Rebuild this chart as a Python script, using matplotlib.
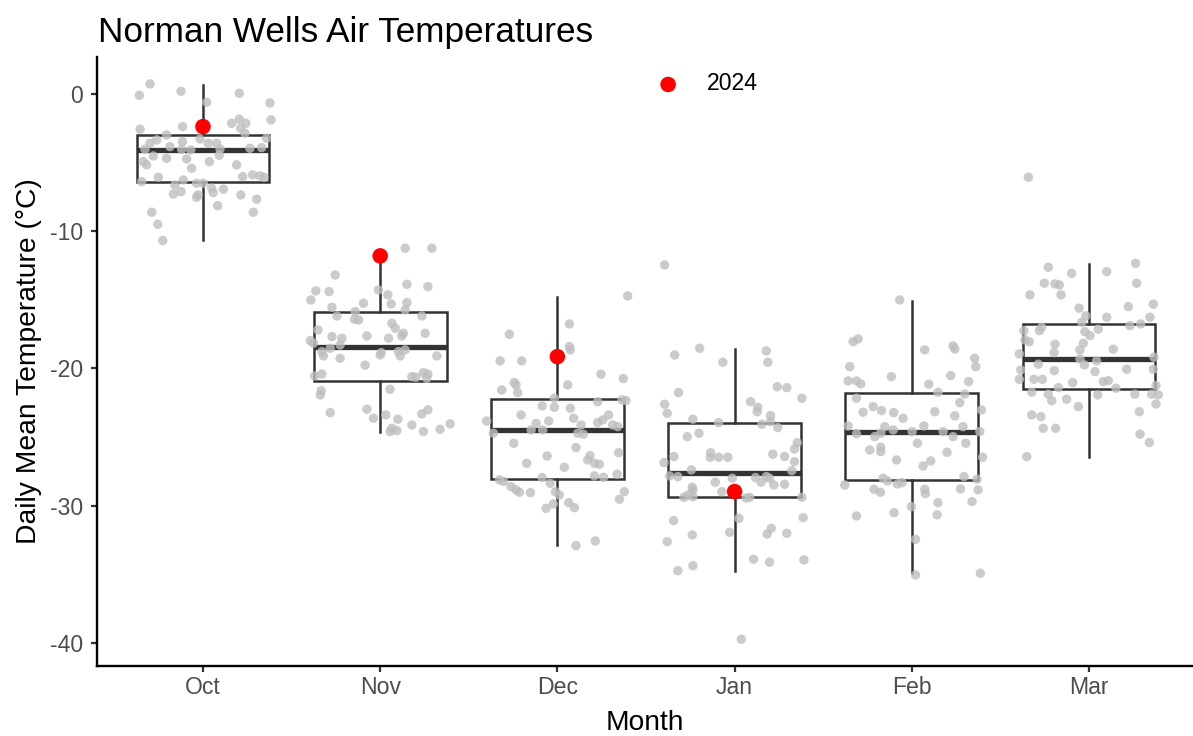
import numpy as np
import matplotlib.pyplot as plt

plt.rcParams['font.family'] = ['Liberation Sans', 'DejaVu Sans']

months = ['Oct', 'Nov', 'Dec', 'Jan', 'Feb', 'Mar']

# box summaries (deg C)
box_q1 = [-6.39, -20.89, -28.07, -29.39, -28.15, -21.47]
box_med = [-4.08, -18.41, -24.48, -27.59, -24.65, -19.33]
box_q3 = [-2.99, -15.86, -22.25, -23.95, -21.81, -16.76]
box_lo = [-10.64, -24.60, -32.86, -34.73, -34.92, -26.42]
box_hi = [0.66, -11.80, -14.77, -18.58, -15.06, -12.39]

# 2024 daily means
yr2024_month = [0, 1, 2, 3]
yr2024_temp = [-2.38, -11.80, -19.14, -28.97]

# daily means of earlier years, with the horizontal jitter used when plotting
oct_temp = [0.73, -0.10, 0.19, 0.05, -0.61, -0.66, -1.89, -2.57, -2.38, -2.14,
            -1.84, -2.14, -2.50, -2.86, -3.23, -3.35, -2.99, -3.59, -3.84, -3.47,
            -3.28, -3.59, -3.59, -4.03, -4.03, -4.08, -4.01, -3.96, -3.91, -4.52,
            -4.69, -4.74, -4.47, -4.93, -4.93, -5.17, -5.42, -5.17, -6.02, -5.90,
            -5.97, -6.07, -6.39, -6.07, -6.27, -6.63, -6.51, -6.51, -6.87, -6.94,
            -7.29, -7.12, -7.36, -7.19, -7.36, -7.67, -7.53, -8.14, -8.62, -8.62,
            -9.50, -10.68]
oct_jit = [-0.299, -0.359, -0.124, 0.205, 0.021, 0.378, 0.384, -0.355, -0.115, 0.162,
           0.205, 0.242, 0.213, 0.237, 0.359, -0.261, -0.205, -0.299, -0.186, -0.115,
           -0.017, 0.030, 0.077, -0.327, -0.120, -0.069, 0.096, 0.265, 0.331, -0.280,
           -0.205, -0.092, 0.092, 0.036, -0.337, -0.318, -0.064, 0.190, 0.224, 0.280,
           0.321, 0.344, -0.346, -0.252, -0.111, -0.158, -0.036, 0.002, 0.049, 0.115,
           -0.167, -0.124, -0.027, 0.058, 0.214, 0.303, -0.036, 0.083, -0.289, 0.284,
           -0.255, -0.227]

nov_temp = [-11.24, -11.24, -13.19, -14.35, -14.40, -15.01, -13.87, -14.04, -14.28, -14.64,
            -15.30, -15.25, -15.21, -15.74, -15.54, -16.18, -15.86, -16.42, -16.47, -16.18,
            -16.71, -17.07, -17.20, -17.44, -17.63, -17.44, -17.63, -17.80, -17.68, -17.80,
            -17.97, -18.16, -18.29, -18.53, -18.78, -19.09, -19.26, -18.85, -19.02, -18.78,
            -19.09, -18.65, -19.09, -19.76, -20.55, -20.41, -20.60, -20.64, -20.31, -20.41,
            -20.72, -21.52, -21.62, -21.93, -23.22, -22.97, -23.63, -23.39, -23.70, -23.31,
            -23.02, -24.12, -24.36, -24.60, -24.53, -24.60, -24.43, -24.04]
nov_jit = [0.141, 0.292, -0.254, -0.363, -0.288, -0.391, 0.151, 0.269, -0.010, 0.043,
           0.062, -0.094, 0.151, 0.141, -0.272, -0.244, -0.141, -0.145, -0.122, 0.235,
           0.066, 0.085, -0.351, 0.131, 0.122, 0.254, -0.075, 0.047, -0.272, -0.216,
           -0.395, -0.376, -0.226, -0.282, -0.329, -0.320, -0.226, 0.006, 0.000, 0.103,
           0.113, 0.141, 0.320, -0.085, -0.370, -0.329, 0.179, 0.201, 0.244, 0.269,
           0.263, 0.056, -0.333, -0.338, -0.282, -0.075, -0.038, 0.032, 0.100, 0.235,
           0.269, 0.179, 0.066, 0.056, 0.094, 0.244, 0.338, 0.395]

dec_temp = [-14.72, -16.76, -17.51, -18.41, -18.65, -19.45, -19.45, -20.42, -20.74, -21.03,
            -21.20, -21.57, -21.76, -21.20, -22.17, -22.42, -22.29, -22.34, -22.73, -22.83,
            -22.90, -23.39, -23.63, -23.39, -23.75, -23.95, -23.83, -24.00, -23.83, -24.12,
            -24.12, -24.24, -24.48, -24.48, -24.72, -24.72, -24.80, -25.45, -25.77, -26.38,
            -26.14, -26.35, -26.67, -26.91, -26.98, -26.91, -27.20, -27.95, -27.83, -27.93,
            -27.71, -28.12, -28.24, -28.61, -28.85, -29.02, -29.05, -28.37, -28.98, -29.22,
            -28.98, -29.53, -29.78, -30.14, -30.19, -29.87, -32.91, -32.57]
dec_jit = [0.397, 0.068, -0.271, 0.068, 0.073, -0.323, -0.201, 0.246, 0.372, -0.243,
           -0.233, -0.314, -0.224, 0.058, -0.017, 0.227, 0.365, 0.387, -0.086, -0.017,
           0.073, -0.205, 0.092, 0.289, 0.256, 0.227, -0.049, -0.120, -0.399, 0.134,
           0.312, 0.340, -0.148, -0.083, -0.361, 0.115, 0.147, -0.246, 0.105, -0.058,
           0.346, 0.184, 0.171, 0.209, 0.237, -0.173, 0.039, -0.086, 0.209, 0.261,
           0.337, -0.327, -0.303, -0.261, -0.233, -0.214, -0.152, -0.041, -0.011, 0.011,
           0.378, 0.350, 0.064, 0.096, -0.064, -0.023, 0.105, 0.214]

jan_temp = [-12.46, -18.53, -19.02, -18.72, -19.55, -19.55, -21.33, -21.40, -21.76, -22.17,
            -22.61, -23.27, -22.42, -22.83, -23.15, -23.44, -23.88, -24.07, -24.31, -23.70,
            -23.95, -24.97, -24.72, -25.41, -25.87, -26.14, -26.47, -26.47, -26.47, -26.42,
            -26.86, -26.25, -26.42, -26.79, -27.39, -27.83, -27.88, -27.45, -28.00, -27.95,
            -27.88, -28.00, -28.29, -28.49, -28.44, -28.29, -28.66, -28.85, -29.22, -29.39,
            -29.34, -28.98, -29.45, -29.39, -29.39, -30.92, -30.87, -31.09, -31.64, -32.06,
            -32.01, -32.13, -31.94, -32.62, -33.90, -34.12, -33.95, -34.37, -34.73, -39.73]
jan_jit = [-0.395, -0.197, -0.338, 0.179, 0.188, -0.066, 0.241, 0.295, -0.316, 0.380,
           -0.395, -0.380, 0.090, 0.131, 0.128, 0.203, 0.203, 0.154, 0.244, -0.235,
           -0.090, -0.267, -0.201, 0.354, 0.338, -0.135, -0.137, -0.090, -0.038, -0.342,
           -0.398, 0.216, 0.282, 0.338, -0.244, -0.367, -0.320, 0.323, -0.013, 0.118,
           0.179, 0.197, 0.150, 0.222, 0.282, -0.109, -0.239, -0.235, -0.263, -0.286,
           -0.235, -0.072, 0.066, 0.085, 0.380, 0.024, 0.387, -0.344, 0.207, 0.184,
           0.295, -0.239, -0.028, -0.380, 0.107, 0.197, 0.391, -0.235, -0.320, 0.038]

feb_temp = [-15.01, -18.05, -17.85, -18.65, -18.36, -18.58, -19.26, -19.87, -19.87, -20.91,
            -20.91, -21.13, -20.60, -20.52, -20.96, -21.15, -21.74, -21.86, -22.17, -22.49,
            -22.78, -23.19, -23.07, -23.22, -23.63, -23.15, -23.46, -23.02, -24.19, -24.24,
            -24.48, -24.19, -24.24, -24.77, -24.97, -24.72, -24.60, -24.60, -24.97, -24.60,
            -25.45, -25.45, -25.94, -25.74, -26.06, -26.11, -26.47, -26.67, -27.11, -26.74,
            -27.88, -28.07, -28.49, -28.00, -28.20, -28.42, -28.32, -28.80, -29.02, -28.80,
            -29.12, -28.78, -28.85, -29.78, -29.70, -30.07, -30.75, -30.51, -30.67, -32.45,
            -35.05, -34.92]
feb_jit = [-0.068, -0.331, -0.303, 0.073, 0.233, 0.243, 0.355, 0.361, -0.350, -0.359,
           -0.312, -0.288, -0.115, 0.220, 0.321, 0.096, 0.148, 0.299, -0.312, 0.271,
           -0.218, -0.275, -0.171, -0.102, -0.049, 0.130, 0.243, 0.393, -0.359, -0.152,
           -0.105, 0.068, 0.289, -0.312, -0.209, -0.175, 0.002, 0.177, 0.233, 0.384,
           0.032, 0.305, -0.237, -0.175, -0.175, 0.199, 0.400, -0.086, 0.064, 0.107,
           0.295, 0.368, -0.378, -0.162, -0.137, -0.081, -0.055, -0.213, -0.177, 0.073,
           0.077, 0.275, 0.374, 0.148, 0.340, -0.002, -0.312, -0.100, 0.143, 0.021,
           0.021, 0.387]

mar_temp = [-6.07, -12.63, -13.07, -12.95, -12.34, -13.79, -13.79, -13.84, -13.92, -14.64,
            -14.64, -15.61, -16.17, -16.64, -16.27, -15.50, -15.32, -16.27, -16.88, -16.76,
            -17.14, -17.32, -17.61, -17.00, -17.25, -17.25, -17.92, -18.05, -18.17, -18.24,
            -18.60, -18.65, -18.85, -18.94, -19.31, -19.45, -19.18, -19.69, -19.74, -20.16,
            -20.23, -20.06, -20.06, -20.11, -20.79, -20.79, -20.79, -20.96, -20.89, -21.03,
            -21.25, -21.39, -21.44, -21.73, -21.88, -21.93, -21.88, -21.88, -21.93, -22.35,
            -22.24, -22.78, -22.59, -23.39, -23.51, -23.15, -24.36, -24.36, -24.79, -25.40,
            -26.43]
mar_jit = [-0.342, -0.230, -0.098, 0.100, 0.263, 0.269, -0.252, -0.192, -0.167, -0.333,
           -0.158, -0.056, -0.017, -0.041, 0.100, 0.222, 0.363, 0.344, 0.231, 0.292,
           0.052, -0.023, 0.006, -0.267, -0.280, -0.367, -0.361, -0.337, -0.032, -0.192,
           0.137, -0.051, -0.197, -0.393, -0.051, 0.043, 0.367, -0.286, -0.026, -0.196,
           0.034, 0.213, 0.363, -0.385, -0.393, -0.310, -0.263, 0.081, 0.109, -0.092,
           0.378, -0.173, 0.152, -0.323, -0.230, 0.049, 0.259, 0.354, 0.391, -0.210,
           -0.126, -0.060, 0.378, -0.323, -0.271, 0.284, -0.258, -0.188, 0.288, 0.341,
           -0.351]

temps = [oct_temp, nov_temp, dec_temp, jan_temp, feb_temp, mar_temp]
jits = [oct_jit, nov_jit, dec_jit, jan_jit, feb_jit, mar_jit]

fig = plt.figure(figsize=(11.93, 7.36), dpi=100)
ax = fig.add_axes([97 / 1193, 70 / 736, 1096 / 1193, 609 / 736])

stats = []
for i, m in enumerate(months):
    stats.append(dict(q1=box_q1[i], med=box_med[i], q3=box_q3[i],
                      whislo=box_lo[i], whishi=box_hi[i], label=m))

ax.bxp(stats, positions=range(len(months)), widths=0.75, showfliers=False,
       showcaps=False, patch_artist=True, zorder=2,
       boxprops=dict(facecolor='white', edgecolor='#333333', linewidth=1.8),
       medianprops=dict(color='#333333', linewidth=3.8, solid_capstyle='butt'),
       whiskerprops=dict(color='#333333', linewidth=1.8))

for i in range(len(months)):
    ax.scatter(i + np.array(jits[i]), temps[i], s=46, color='#BEBEBE',
               alpha=0.8, edgecolors='none', zorder=3)

ax.scatter(yr2024_month, yr2024_temp, s=125, color='red', edgecolors='none',
           zorder=4, label='2024')

ax.set_xlim(-0.598, 5.587)
ax.set_ylim(-41.68, 2.69)
ax.set_xticks(range(len(months)))
ax.set_xticklabels(months)
ax.set_yticks([0, -10, -20, -30, -40])
ax.set_yticklabels(['0', '-10', '-20', '-30', '-40'])

for s in ['top', 'right']:
    ax.spines[s].set_visible(False)
for s in ['left', 'bottom']:
    ax.spines[s].set_linewidth(1.7)
    ax.spines[s].set_color('black')
ax.tick_params(length=4.3, width=1.6, color='#333333', labelcolor='#4D4D4D',
               labelsize=16.6)
ax.tick_params(axis='y', pad=5.8)
ax.tick_params(axis='x', pad=2.8)

fig.text(98 / 1193, 1 - 42 / 736, 'Norman Wells Air Temperatures',
         fontsize=25.3, ha='left', va='baseline')
fig.text(645 / 1193, 1 - 730 / 736, 'Month', fontsize=20.3,
         ha='center', va='baseline')
fig.text(36 / 1193, 1 - 361.5 / 736, 'Daily Mean Temperature (°C)', fontsize=20.3,
         rotation=90, rotation_mode='anchor', ha='center', va='baseline')

ax.legend(loc='center left', bbox_to_anchor=(656.6 / 1193, 1 - 84 / 736),
          bbox_transform=fig.transFigure, frameon=False, fontsize=16.6,
          handlelength=1.0, handletextpad=1.17, borderpad=0, borderaxespad=0)

fig.savefig('out.png', dpi=100)
